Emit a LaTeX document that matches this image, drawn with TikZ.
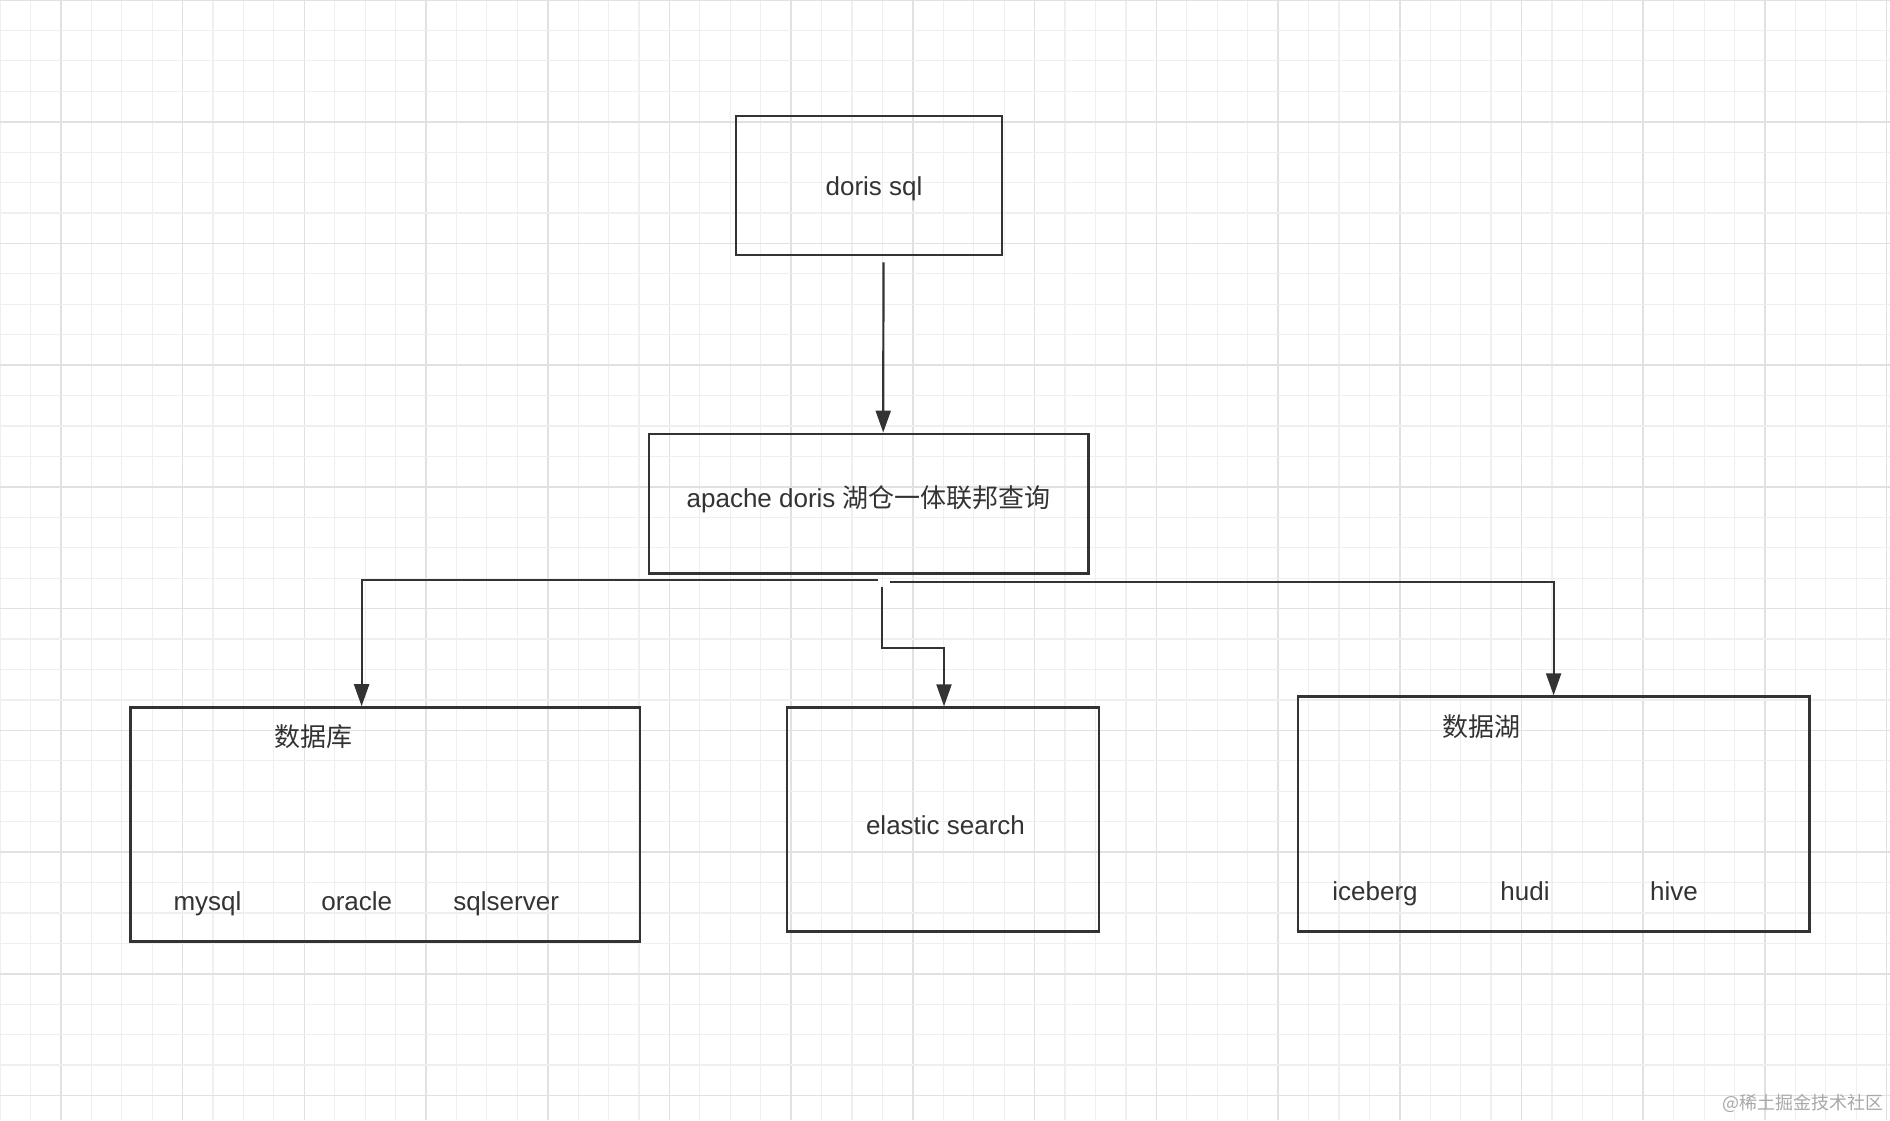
\documentclass[tikz,border=0pt]{standalone}
\usepackage{fontspec}
\setmainfont{Liberation Sans}
\newfontfamily\cjk{Noto Sans CJK SC}
\usetikzlibrary{arrows.meta}
\definecolor{ink}{HTML}{333333}
\definecolor{gridminor}{HTML}{EFEFEF}
\definecolor{gridmajor}{HTML}{E1E1E1}
\definecolor{wm}{HTML}{A8A8A8}
\begin{document}
\begin{tikzpicture}[x=1pt,y=-1pt,
  box/.style={draw=ink, line width=2.8pt, inner sep=0pt, text=ink, font=\fontsize{26}{30}\selectfont},
  conn/.style={draw=ink, line width=2.2pt, -{Triangle[length=22pt,width=15pt]}},
  lbl/.style={text=ink, font=\fontsize{26}{30}\selectfont, inner sep=0pt}]
\fill[white] (0,0) rectangle (1890,1120);
\useasboundingbox (0,0) rectangle (1890,1120);
% grid
\foreach \i in {0,...,62} {
  \pgfmathtruncatemacro{\m}{mod(\i,4)}
  \ifnum\m=2
    \draw[gridmajor, line width=1.6pt] (\i*30.43,0) -- (\i*30.43,1120);
  \else
    \draw[gridminor, line width=1.2pt] (\i*30.43,0) -- (\i*30.43,1120);
  \fi
}
\foreach \j in {0,...,37} {
  \pgfmathtruncatemacro{\m}{mod(\j,4)}
  \ifnum\m=0
    \draw[gridmajor, line width=1.6pt] (0,\j*30.43) -- (1890,\j*30.43);
  \else
    \draw[gridminor, line width=1.2pt] (0,\j*30.43) -- (1890,\j*30.43);
  \fi
}
% boxes
\node[box, minimum width=266pt, minimum height=139pt] (doris) at (869,185.5) {\raisebox{-10.2pt}[0pt][0pt]{\hspace*{10pt}doris sql}};
\node[box, minimum width=439.5pt, minimum height=139.5pt] (apache) at (868.7,503.7) {\raisebox{-4pt}[0pt][0pt]{apache doris {\cjk 湖仓一体联邦查询}}};
\node[box, minimum width=509.8pt, minimum height=233.8pt] (db) at (385.1,824.5) {};
\node[box, minimum width=312pt, minimum height=224pt] (es) at (943,819.7) {\raisebox{-14.3pt}[0pt][0pt]{\hspace*{5pt}elastic search}};
\node[box, minimum width=511.3pt, minimum height=235pt] (lake) at (1553.6,814.2) {};
% inner labels
\node[lbl] (dbt) at (313.5,737) {\cjk 数据库};
\node[lbl, anchor=base] (mysql) at (207.5,910) {mysql};
\node[lbl, anchor=base] (oracle) at (356.7,910) {oracle};
\node[lbl, anchor=base] (sqlserver) at (506.2,910) {sqlserver};
\node[lbl] (lakt) at (1481,727) {\cjk 数据湖};
\node[lbl, anchor=base] (iceberg) at (1375,900) {iceberg};
\node[lbl, anchor=base] (hudi) at (1525,900) {hudi};
\node[lbl, anchor=base] (hive) at (1674,900) {hive};
% connector start points
\coordinate (sL) at (878,580);
\coordinate (sM) at (881.7,586.7);
\coordinate (sR) at (890,582);
% connectors
\draw[conn, shorten <=6pt] ([xshift=14.5pt]doris.south) -- ([xshift=14.5pt]apache.north);
\draw[conn] (sL) -| ([xshift=-23.5pt]db.north);
\draw[conn] (sM) -- ++(0,61) -| ([xshift=1pt]es.north);
\draw[conn] (sR) -| (lake.north);
% watermark
\node[anchor=east, text=wm, inner sep=0pt, font=\cjk\fontsize{18}{20}\selectfont] (wmk) at (1884,1103) {@稀土掘金技术社区};
\end{tikzpicture}
\end{document}
